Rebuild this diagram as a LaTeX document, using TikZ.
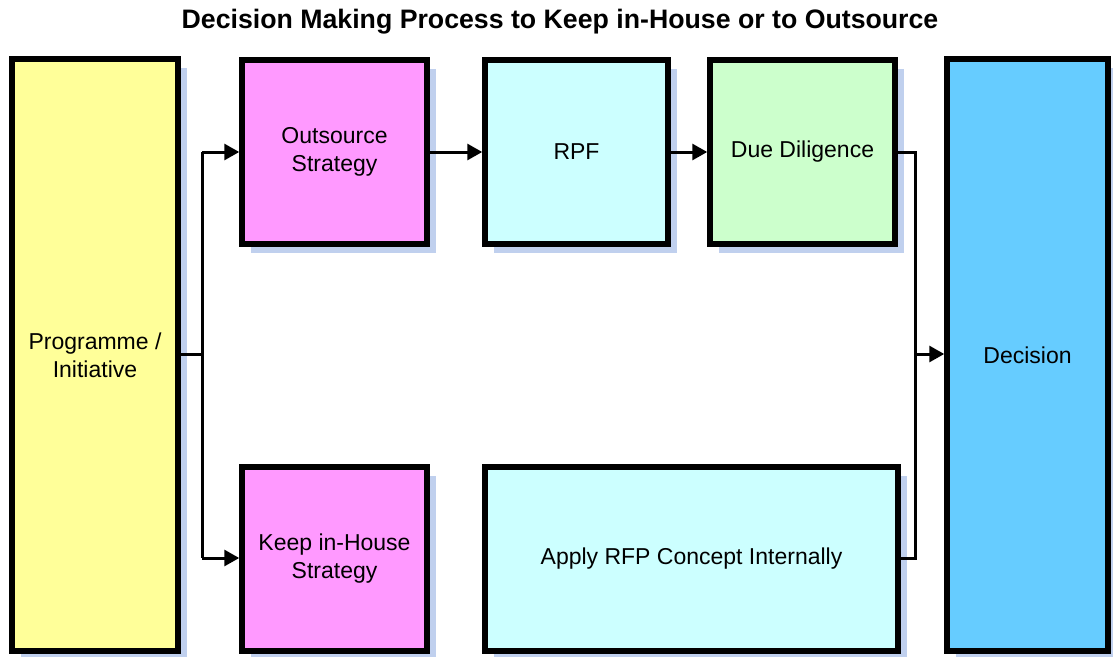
\documentclass[tikz,border=0pt]{standalone}
\usepackage{fontspec}
\setmainfont{Liberation Sans}
\usetikzlibrary{arrows.meta,shadows}
\definecolor{progyellow}{HTML}{FFFF99}
\definecolor{stratpink}{HTML}{FF99FF}
\definecolor{rfpcyan}{HTML}{CCFFFF}
\definecolor{dilgreen}{HTML}{CCFFCC}
\definecolor{decblue}{HTML}{66CCFF}
\definecolor{shadowblue}{RGB}{192,208,238}
\begin{document}
\begin{tikzpicture}[x=1pt,y=-1pt,
  procbox/.style={draw=black,line width=5.5pt,align=center,inner sep=0pt,
    font=\fontsize{23}{28}\selectfont,
    drop shadow={shadow xshift=9pt,shadow yshift=-9pt,fill=shadowblue,opacity=1}},
  link/.style={line width=3pt,-{Triangle[length=15pt,width=16pt]}},
  plain/.style={line width=3pt}]
\useasboundingbox (0,0) rectangle (1113,656);
\node[font=\bfseries\fontsize{26.7}{30}\selectfont] (title) at (560,22)
  {Decision Making Process to Keep in-House or to Outsource};

\node[procbox,fill=progyellow,minimum width=166pt,minimum height=592pt] (prog) at (95,355) {Programme /\\Initiative};
\node[procbox,fill=stratpink,minimum width=185pt,minimum height=184pt] (out) at (334.5,152) {Outsource\\Strategy};
\node[procbox,fill=rfpcyan,minimum width=183pt,minimum height=184pt] (rpf) at (576.5,152) {RPF};
\node[procbox,fill=dilgreen,minimum width=185pt,minimum height=184pt] (dd) at (802.5,152) {Due Diligence};
\node[procbox,fill=stratpink,minimum width=185pt,minimum height=184pt] (keep) at (334.5,559) {Keep in-House\\Strategy};
\node[procbox,fill=rfpcyan,minimum width=413pt,minimum height=184pt] (apply) at (691.5,559) {Apply RFP Concept Internally};
\node[procbox,fill=decblue,minimum width=161pt,minimum height=592pt] (dec) at (1027.5,355) {Decision};

% split after the programme box
\coordinate (split) at (202,354);
\coordinate (splitup) at (202,152);
\coordinate (splitdown) at (202,558);
\draw[plain] (prog.east |- split) -- (split);
\draw[plain] (splitup) -- (splitdown);
\draw[link] (splitup) -- (out.west |- splitup);
\draw[link] (splitdown) -- (keep.west |- splitdown);

% outsource path
\draw[link] (out.east |- splitup) -- (rpf.west |- splitup);
\draw[link] (rpf.east |- splitup) -- (dd.west |- splitup);

% merge into the decision
\coordinate (mergeup) at (915,152);
\coordinate (mergedown) at (915,558);
\coordinate (merge) at (915,354);
\draw[plain] (dd.east |- mergeup) -- (mergeup) -- (mergedown) -- (apply.east |- mergedown);
\draw[link] (merge) -- (dec.west |- merge);
\end{tikzpicture}
\end{document}
